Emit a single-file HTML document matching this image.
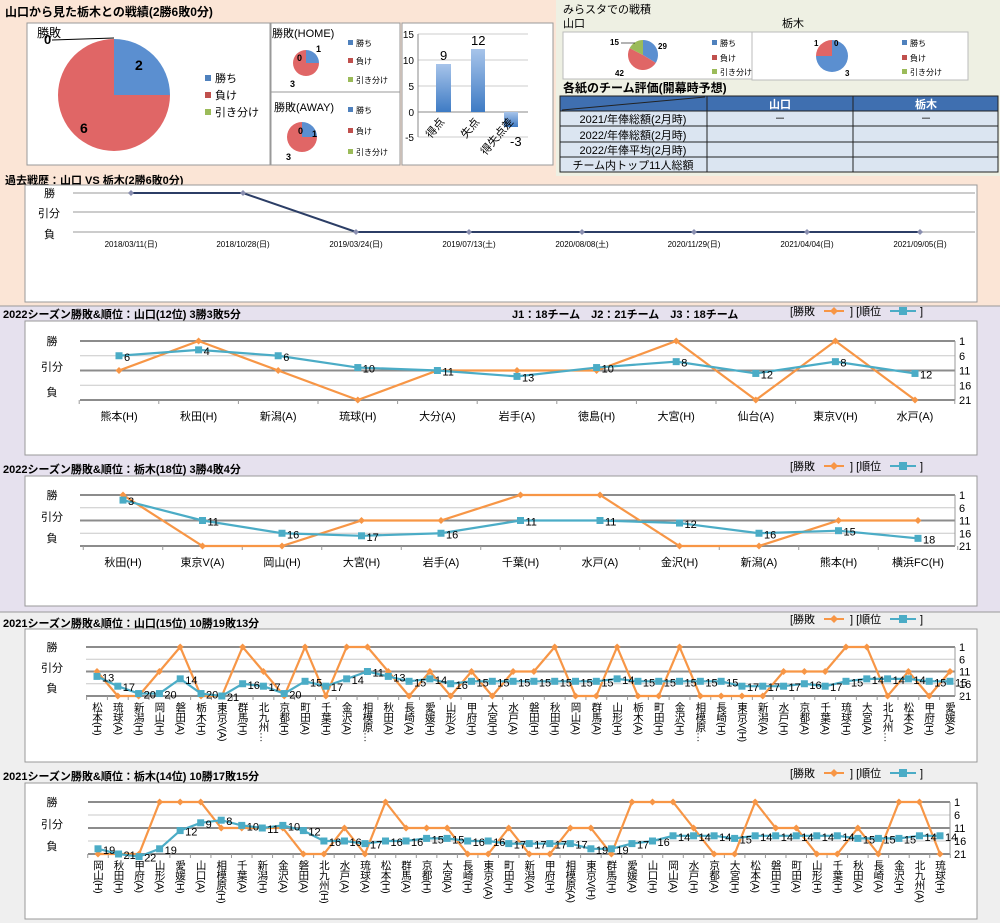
<!DOCTYPE html>
<html><head><meta charset="utf-8">
<style>
html,body{margin:0;padding:0;background:#fff}
svg{display:block}
text{font-family:"Liberation Sans","Noto Sans CJK JP",sans-serif;fill:#000}
.b{font-weight:bold}
</style></head>
<body>
<svg id="s" width="1000" height="923" xmlns="http://www.w3.org/2000/svg">
<rect x="0" y="0" width="1000" height="306" fill="#fbe5d6"/>
<rect x="556" y="0" width="444" height="176" fill="#eef0e3"/>
<rect x="0" y="306" width="1000" height="306" fill="#e6e1ee"/>
<rect x="0" y="612" width="1000" height="311" fill="#efefef"/>
<line x1="0" y1="306" x2="1000" y2="306" stroke="#999"/>
<line x1="0" y1="612" x2="1000" y2="612" stroke="#999"/>

<text x="5" y="16" font-size="12" class="b">山口から見た栃木との戦績(2勝6敗0分)</text>
<rect x="27" y="23" width="243" height="142" fill="#fff" stroke="#999"/>
<rect x="205" y="75" width="6" height="6" fill="#4f81bd"/><text x="215" y="82" font-size="11">勝ち</text>
<rect x="205" y="92" width="6" height="6" fill="#c0504d"/><text x="215" y="99" font-size="11">負け</text>
<rect x="205" y="109" width="6" height="6" fill="#9bbb59"/><text x="215" y="116" font-size="11">引き分け</text>

<rect x="271" y="23" width="129" height="69" fill="#fff" stroke="#999"/>
<rect x="271" y="92" width="129" height="73" fill="#fff" stroke="#999"/>
<text x="272" y="37" font-size="11">勝敗(HOME)</text>
<rect x="348" y="40" width="5" height="5" fill="#4f81bd"/><text x="356" y="46" font-size="8">勝ち</text>
<rect x="348" y="58" width="5" height="5" fill="#c0504d"/><text x="356" y="64" font-size="8">負け</text>
<rect x="348" y="77" width="5" height="5" fill="#9bbb59"/><text x="356" y="83" font-size="8">引き分け</text>
<text x="274" y="111" font-size="11">勝敗(AWAY)</text>
<rect x="348" y="107" width="5" height="5" fill="#4f81bd"/><text x="356" y="113" font-size="8">勝ち</text>
<rect x="348" y="128" width="5" height="5" fill="#c0504d"/><text x="356" y="134" font-size="8">負け</text>
<rect x="348" y="149" width="5" height="5" fill="#9bbb59"/><text x="356" y="155" font-size="8">引き分け</text>

<rect x="402" y="23" width="151" height="142" fill="#fff" stroke="#999"/>
<g stroke="#ccc"><line x1="418" y1="34" x2="528" y2="34"/><line x1="418" y1="60" x2="528" y2="60"/><line x1="418" y1="86" x2="528" y2="86"/><line x1="418" y1="137" x2="528" y2="137"/></g>
<line x1="418" y1="112" x2="528" y2="112" stroke="#888"/>
<line x1="418" y1="34" x2="418" y2="137" stroke="#888"/>
<g font-size="10" text-anchor="end"><text x="414" y="38">15</text><text x="414" y="64">10</text><text x="414" y="90">5</text><text x="414" y="116">0</text><text x="414" y="141">-5</text></g>
<defs><linearGradient id="bg" x1="0" y1="0" x2="0" y2="1"><stop offset="0" stop-color="#a7c4ea"/><stop offset="1" stop-color="#3e7bc4"/></linearGradient></defs>
<rect x="436" y="64" width="15" height="48" fill="url(#bg)"/>
<rect x="471" y="49" width="14" height="63" fill="url(#bg)"/>
<rect x="504" y="112" width="14" height="15" fill="url(#bg)"/>
<text x="440" y="60" font-size="13">9</text><text x="471" y="45" font-size="13">12</text><text x="510" y="146" font-size="13">-3</text>
<g font-size="11"><text transform="translate(445,122) rotate(-50)" text-anchor="end">得点</text><text transform="translate(480,122) rotate(-50)" text-anchor="end">失点</text><text transform="translate(514,122) rotate(-50)" text-anchor="end">得失点差</text></g>

<text x="563" y="13" font-size="11">みらスタでの戦積</text>
<text x="563" y="27" font-size="11">山口</text><text x="782" y="27" font-size="11">栃木</text>
<rect x="563" y="32" width="189" height="47" fill="#fff" stroke="#bbb"/>
<rect x="752" y="32" width="216" height="48" fill="#fff" stroke="#bbb"/>
<rect x="712" y="40" width="5" height="5" fill="#4f81bd"/><text x="720" y="46" font-size="8">勝ち</text>
<rect x="712" y="55" width="5" height="5" fill="#c0504d"/><text x="720" y="61" font-size="8">負け</text>
<rect x="712" y="69" width="5" height="5" fill="#9bbb59"/><text x="720" y="75" font-size="8">引き分け</text>
<rect x="902" y="40" width="5" height="5" fill="#4f81bd"/><text x="910" y="46" font-size="8">勝ち</text>
<rect x="902" y="55" width="5" height="5" fill="#c0504d"/><text x="910" y="61" font-size="8">負け</text>
<rect x="902" y="69" width="5" height="5" fill="#9bbb59"/><text x="910" y="75" font-size="8">引き分け</text>
<text x="563" y="92" font-size="12" class="b">各紙のチーム評価(開幕時予想)</text>
<rect x="560" y="96" width="438" height="15" fill="#3f6fb0"/>
<rect x="560" y="111" width="438" height="61" fill="#dbe5f1"/>
<g stroke="#222" stroke-width="1" fill="none">
<rect x="560" y="96" width="438" height="76"/>
<line x1="560" y1="111" x2="998" y2="111"/><line x1="560" y1="126" x2="998" y2="126"/><line x1="560" y1="142" x2="998" y2="142"/><line x1="560" y1="157" x2="998" y2="157"/>
<line x1="707" y1="96" x2="707" y2="172"/><line x1="853" y1="96" x2="853" y2="172"/>
<line x1="562" y1="110" x2="705" y2="97"/>
</g>
<text x="780" y="108" font-size="11" class="b" text-anchor="middle" style="fill:#fff">山口</text>
<text x="926" y="108" font-size="11" class="b" text-anchor="middle" style="fill:#fff">栃木</text>
<g font-size="11" text-anchor="middle"><text x="633" y="123">2021/年俸総額(2月時)</text><text x="633" y="139">2022/年俸総額(2月時)</text><text x="633" y="154">2022/年俸平均(2月時)</text><text x="633" y="169">チーム内トップ11人総額</text>
<text x="780" y="122">－</text><text x="926" y="122">－</text></g>

<text x="5" y="184" font-size="11" class="b">過去戦歴：山口 VS 栃木(2勝6敗0分)</text>
<rect x="25" y="185" width="952" height="117" fill="#fff" stroke="#999"/>
<g stroke="#bbb" stroke-width="1.5"><line x1="73" y1="193" x2="975" y2="193"/><line x1="73" y1="212" x2="975" y2="212"/><line x1="73" y1="232" x2="975" y2="232"/></g>
<g font-size="11"><text x="44" y="197">勝</text><text x="38" y="217">引分</text><text x="44" y="238">負</text></g>
<g id="past"></g>

<text x="3" y="318" font-size="11" class="b">2022シーズン勝敗&amp;順位：山口(12位) 3勝3敗5分</text>
<text x="512" y="318" font-size="11" class="b">J1：18チーム　J2：21チーム　J3：18チーム</text>
<g id="c1"></g>
<text x="3" y="473" font-size="11" class="b">2022シーズン勝敗&amp;順位：栃木(18位) 3勝4敗4分</text>
<g id="c2"></g>
<text x="3" y="627" font-size="11" class="b">2021シーズン勝敗&amp;順位：山口(15位) 10勝19敗13分</text>
<g id="c3"></g>
<text x="3" y="780" font-size="11" class="b">2021シーズン勝敗&amp;順位：栃木(14位) 10勝17敗15分</text>
<g id="c4"></g>

<g id="pies"></g>
<g class="b">
<text x="37" y="37" font-size="12" font-weight="normal">勝敗</text>
<text x="44" y="44" font-size="13">0</text>
<text x="135" y="70" font-size="14">2</text>
<text x="80" y="133" font-size="14">6</text>
<text x="316" y="52" font-size="9">1</text><text x="297" y="61" font-size="9">0</text><text x="290" y="87" font-size="9">3</text>
<text x="298" y="134" font-size="9">0</text><text x="312" y="137" font-size="9">1</text><text x="286" y="160" font-size="9">3</text>
<text x="610" y="45" font-size="8">15</text>
<text x="658" y="49" font-size="8">29</text><text x="615" y="76" font-size="8">42</text>
<text x="814" y="46" font-size="8">1</text><text x="834" y="46" font-size="8">0</text><text x="845" y="76" font-size="8">3</text>
</g>
<line x1="52" y1="40" x2="114" y2="38" stroke="#000"/>
<line x1="621" y1="43" x2="635" y2="43" stroke="#000" stroke-width=".6"/>
</svg>
<script>
var NS="http://www.w3.org/2000/svg";
function el(p,t,a,txt){var e=document.createElementNS(NS,t);for(var k in a)e.setAttribute(k,a[k]);if(txt!=null)e.textContent=txt;p.appendChild(e);return e;}
function pie(g,cx,cy,r,vals,cols){var tot=vals.reduce(function(a,b){return a+b},0),a0=-Math.PI/2;
 vals.forEach(function(v,i){if(!v)return;var a1=a0+v/tot*2*Math.PI;
 if(v==tot){el(g,'circle',{cx:cx,cy:cy,r:r,fill:cols[i]});return;}
 var x0=cx+r*Math.cos(a0),y0=cy+r*Math.sin(a0),x1=cx+r*Math.cos(a1),y1=cy+r*Math.sin(a1);
 el(g,'path',{d:'M'+cx+','+cy+'L'+x0+','+y0+'A'+r+','+r+' 0 '+((a1-a0)>Math.PI?1:0)+' 1 '+x1+','+y1+'Z',fill:cols[i]});a0=a1;});}
var C=['#5b8fd0','#e06666','#9bbb59'];
var pg=document.getElementById('pies');
pie(pg,114,95,56,[2,6,0],C);pie(pg,306,63,13,[1,3,0],C);pie(pg,302,137,15,[1,3,0],C);
pie(pg,643,55,15,[29,42,15],C);pie(pg,832,56,16,[3,1,0],C);
var pp=document.getElementById('past'),px=[131,243,356,469,582,694,807,920],py=[193,193,232,232,232,232,232,232],
 pd=['2018/03/11(日)','2018/10/28(日)','2019/03/24(日)','2019/07/13(土)','2020/08/08(土)','2020/11/29(日)','2021/04/04(日)','2021/09/05(日)'];
el(pp,'polyline',{points:px.map(function(x,i){return x+','+py[i]}).join(' '),fill:'none',stroke:'#2c3e66','stroke-width':2});
px.forEach(function(x,i){el(pp,'path',{d:'M'+x+','+(py[i]-3)+'l3,3l-3,3l-3,-3z',fill:'#8a8fb0'});el(pp,'text',{x:x,y:247,'font-size':8,'text-anchor':'middle'},pd[i]);});

function chart(id,o){var g=document.getElementById(id);
 el(g,'rect',{x:25,y:o.by,width:952,height:o.bh,fill:'#fff',stroke:'#999'});
 var lx=790,ly=o.by-6;
 el(g,'text',{x:lx,y:ly,'font-size':11},'[勝敗');
 el(g,'line',{x1:lx+34,y1:ly-4,x2:lx+54,y2:ly-4,stroke:'#f79646','stroke-width':2});
 el(g,'path',{d:'M'+(lx+44)+','+(ly-8)+'l4,4l-4,4l-4,-4z',fill:'#f79646'});
 el(g,'text',{x:lx+60,y:ly,'font-size':11},'] [順位');
 el(g,'line',{x1:lx+100,y1:ly-4,x2:lx+126,y2:ly-4,stroke:'#4bacc6','stroke-width':2});
 el(g,'rect',{x:lx+109,y:ly-8,width:8,height:8,fill:'#4bacc6'});
 el(g,'text',{x:lx+130,y:ly,'font-size':11},']');
 var t=o.t,b=o.b,ry=function(r){return t+(r-1)*(b-t)/20};
 [1,6,11,16,21].forEach(function(r){var d=(r%10==1);
  el(g,'line',{x1:o.x0,y1:ry(r),x2:o.x1,y2:ry(r),stroke:d?'#8c8c8c':'#c8c8c8','stroke-width':d?2:1});
  el(g,'text',{x:o.x1+4,y:ry(r)+4,'font-size':11},r);});
 el(g,'line',{x1:o.x1,y1:t,x2:o.x1,y2:b,stroke:'#999'});
 el(g,'text',{x:52,y:t+4,'font-size':11,'text-anchor':'middle'},'勝');
 el(g,'text',{x:52,y:(t+b)/2,'font-size':11,'text-anchor':'middle'},'引分');
 el(g,'text',{x:52,y:b-4,'font-size':11,'text-anchor':'middle'},'負');
 var n=o.cats.length,sp=(o.xl-o.xf)/(n-1),X=function(i){return o.xf+i*sp};
 for(var i=0;i<=n;i++){var xx=o.xf+(i-0.5)*sp;el(g,'line',{x1:xx,y1:b,x2:xx,y2:b+4,stroke:'#999'});}
 var wy={W:ry(1),D:ry(11),L:ry(21)};
 el(g,'polyline',{points:o.wl.split('').map(function(c,i){return X(i)+','+wy[c]}).join(' '),fill:'none',stroke:'#f79646','stroke-width':2.2});
 o.wl.split('').forEach(function(c,i){el(g,'path',{d:'M'+X(i)+','+(wy[c]-3.5)+'l3.5,3.5l-3.5,3.5l-3.5,-3.5z',fill:'#f79646'});});
 el(g,'polyline',{points:o.rk.map(function(r,i){return X(i)+','+ry(r)}).join(' '),fill:'none',stroke:'#4bacc6','stroke-width':2.2});
 o.rk.forEach(function(r,i){el(g,'rect',{x:X(i)-3.5,y:ry(r)-3.5,width:7,height:7,fill:'#4bacc6'});
  el(g,'text',{x:X(i)+5,y:ry(r)+5,'font-size':11,fill:'#222'},r);});
 o.cats.forEach(function(c,i){
  if(o.vert){el(g,'text',{x:X(i),y:b+6,'font-size':10.5,style:'writing-mode:vertical-rl;letter-spacing:-0.5px'},c);}
  else el(g,'text',{x:X(i),y:b+20,'font-size':11,'text-anchor':'middle'},c);});
}
chart('c1',{by:321,bh:134,t:341,b:400,x0:80,x1:955,xf:119,xl:915,
 cats:['熊本(H)','秋田(H)','新潟(A)','琉球(H)','大分(A)','岩手(A)','徳島(H)','大宮(H)','仙台(A)','東京V(H)','水戸(A)'],
 wl:'DWDLDDDWLWL',rk:[6,4,6,10,11,13,10,8,12,8,12]});
chart('c2',{by:476,bh:130,t:495,b:546,x0:80,x1:955,xf:123,xl:918,
 cats:['秋田(H)','東京V(A)','岡山(H)','大宮(H)','岩手(A)','千葉(H)','水戸(A)','金沢(H)','新潟(A)','熊本(H)','横浜FC(H)'],
 wl:'WLLDDWWLLDD',rk:[3,11,16,17,16,11,11,12,16,15,18]});
chart('c3',{by:629,bh:133,t:647,b:696,x0:86,x1:955,xf:97,xl:950,vert:1,
 cats:['松本(H)','琉球(A)','新潟(H)','岡山(H)','磐田(A)','栃木(H)','東京V(A)','群馬(H)','北九州…','京都(H)','町田(A)','千葉(H)','金沢(A)','相模原…','秋田(A)','長崎(A)','愛媛(H)','山形(A)','甲府(H)','大宮(H)','水戸(A)','磐田(H)','秋田(H)','岡山(A)','群馬(A)','山形(H)','栃木(A)','町田(H)','金沢(H)','相模原…','長崎(H)','東京V(H)','新潟(A)','水戸(H)','京都(A)','千葉(A)','琉球(H)','大宮(A)','北九州…','松本(A)','甲府(H)','愛媛(A)'],
 wl:'DLLDWLLWDLWLWWDLDLDLDDWLLWLLWLLLLDDDWWLDLD',
 rk:[13,17,20,20,14,20,21,16,17,20,15,17,14,11,13,15,14,16,15,15,15,15,15,15,15,14,15,15,15,15,15,17,17,17,16,17,15,14,14,14,15,15]});
chart('c4',{by:783,bh:136,t:802,b:854,x0:88,x1:950,xf:98,xl:940,vert:1,
 cats:['岡山(H)','秋田(H)','甲府(A)','山形(A)','愛媛(H)','山口(A)','相模原(H)','千葉(A)','新潟(H)','金沢(A)','磐田(A)','北九州(H)','水戸(A)','琉球(A)','松本(H)','群馬(A)','京都(H)','大宮(A)','長崎(H)','東京V(A)','町田(H)','新潟(A)','甲府(H)','相模原(A)','東京V(H)','群馬(H)','愛媛(A)','山口(H)','岡山(A)','水戸(H)','京都(A)','大宮(H)','松本(A)','磐田(H)','町田(A)','山形(H)','千葉(H)','秋田(A)','長崎(A)','金沢(H)','北九州(A)','琉球(H)'],
 wl:'LLLWWWDDDDLLDLWDDDLLDLLDDLWWWDLLWDDLLDLWWL',
 rk:[19,21,22,19,12,9,8,10,11,10,12,16,16,17,16,16,15,15,16,16,17,17,17,17,19,19,17,16,14,14,14,15,14,14,14,14,14,15,15,15,14,14]});
</script>
</body></html>
